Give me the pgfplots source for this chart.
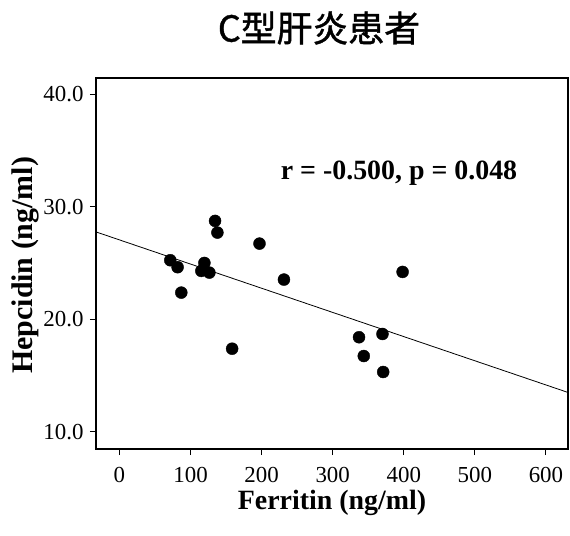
\documentclass[border=0pt]{standalone}
\usepackage{pgfplots}
\pgfplotsset{compat=1.18}
\usepackage{fontspec}
\setmainfont{Liberation Serif}
\newfontfamily\cjk[FakeBold=1.2]{Noto Sans CJK JP}

\begin{document}
\begin{tikzpicture}
% page = reference canvas, frame lower-left at the origin
\useasboundingbox (-96bp,-87bp) rectangle (474bp,449bp);
\begin{axis}[
    at={(0,0)}, anchor=south west,
    scale only axis,
    width=472bp, height=371bp,
    xmin=-33, xmax=631,
    ymin=8.46, ymax=41.46,
    xtick={0,100,...,600},
    ytick={10,20,30,40},
    tick align=outside,
    tick pos=left,
    major tick length=6bp,
    axis line style={line width=1.1bp},
    tick style={black, line width=1bp},
    /pgf/number format/assume math mode=true,
    ticklabel style={font=\fontsize{23}{23}\selectfont},
    xticklabel style={yshift=-9bp},
    yticklabel style={
        /pgf/number format/fixed,
        /pgf/number format/fixed zerofill,
        /pgf/number format/precision=1,
        xshift=-3bp},
    xlabel={Ferritin (ng/ml)},
    ylabel={Hepcidin (ng/ml)},
    xlabel style={font=\fontsize{28}{28}\selectfont\bfseries,
        at={(axis description cs:0.5,-0.164)}, anchor=base},
    ylabel style={font=\fontsize{30}{30}\selectfont\bfseries,
        at={(axis description cs:-0.150,0.495)}, anchor=center, rotate=0},
    clip=true,
]
% regression line
\addplot[black, line width=0.8bp] coordinates {(-33,27.77) (631,13.49)};

% patients
\addplot[only marks, mark=*, mark size=6bp, black] coordinates {
    (71.5,25.25)
    (81.8,24.63)
    (87.0,22.37)
    (134.5,28.75)
    (137.8,27.71)
    (119.5,25.01)
    (115.2,24.30)
    (126.5,24.15)
    (197.0,26.73)
    (231.4,23.53)
    (158.5,17.38)
    (398.3,24.21)
    (337.0,18.40)
    (370.0,18.69)
    (343.7,16.73)
    (371.0,15.31)
};

\node[anchor=base west, inner sep=0pt, font=\fontsize{28}{28}\selectfont\bfseries]
    at (axis cs:226.7,32.4) {r = -0.500, p = 0.048};
\end{axis}
% title above the frame
\node[anchor=center, inner sep=0pt, font=\cjk\fontsize{36}{36}\selectfont]
    at (223bp,421bp) {C型肝炎患者};
\end{tikzpicture}
\end{document}
